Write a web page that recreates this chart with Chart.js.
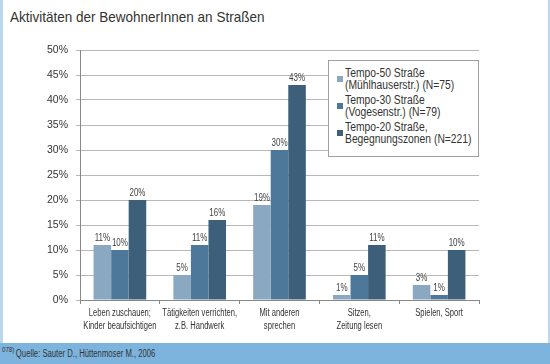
<!DOCTYPE html>
<html>
<head>
<meta charset="utf-8">
<script src="https://cdn.jsdelivr.net/npm/chart.js@4"></script>
<style>
  html, body { margin: 0; padding: 0; background: #fff; }
  body { width: 550px; height: 364px; position: relative; overflow: hidden; font-family: 'Liberation Sans', sans-serif; color: #333; }
  #leftbar { position: absolute; left: 0; top: 0; width: 3px; height: 343px; background: #b9d7ef; }
  #rightbar { position: absolute; right: 0; top: 0; width: 2px; height: 343px; background: #b9d7ef; }
  #title { position: absolute; left: 10px; top: 9px; font-size: 15px; line-height: 15px; white-space: nowrap; transform: scaleX(0.9); transform-origin: left top; color: #333; }
  #wrap { position: absolute; left: 0; top: 0; width: 550px; height: 343px; }
  #footer { position: absolute; left: 0; top: 343px; width: 550px; height: 21px; background: #7db4dd; }
  #footer div { position: absolute; left: 2px; top: 0; font-size: 10px; line-height: 22px; white-space: nowrap; transform: scaleX(0.77); transform-origin: left top; }
  #footer sup { font-size: 8px; vertical-align: top; line-height: 14px; margin-right: 2px; }
  #legend { position: absolute; left: 328px; top: 60px; width: 149px; height: 95px; border: 1px solid #a0a0a0; background: #fff; }
  .item { position: absolute; left: 16px; line-height: 12px; }
  .sq { position: absolute; left: -8px; top: 9px; width: 6px; height: 6px; }
  .txt { font-size: 12px; white-space: nowrap; transform: scaleX(0.86); transform-origin: left top; }
</style>
</head>
<body>
<div id="leftbar"></div>
<div id="rightbar"></div>
<div id="title">Aktivitäten der BewohnerInnen an Straßen</div>
<div id="wrap"><canvas id="chart"></canvas></div>
<div id="legend"></div>
<div id="footer"><div><sup>078)</sup>Quelle: Sauter D., Hüttenmoser M., 2006</div></div>
<script>
const categories = [
  ['Leben zuschauen;', 'Kinder beaufsichtigen'],
  ['Tätigkeiten verrichten,', 'z.B. Handwerk'],
  ['Mit anderen', 'sprechen'],
  ['Sitzen,', 'Zeitung lesen'],
  ['Spielen, Sport']
];
const seriesNames = [
  ['Tempo-50 Straße', '(Mühlhauserstr.) (N=75)'],
  ['Tempo-30 Straße', '(Vogesenstr.) (N=79)'],
  ['Tempo-20 Straße,', 'Begegnungszonen (N=221)']
];
const tempo50 = [11, 5, 19, 1, 3];
const tempo30 = [10, 11, 30, 5, 1];
const tempo20 = [20, 16, 43, 11, 10];
const colors = ['#8aa8c1', '#4e7899', '#3e5f7a'];

// legend as plain html box
const legend = document.getElementById('legend');
seriesNames.forEach((n, i) => {
  const d = document.createElement('div');
  d.className = 'item';
  d.style.top = (6 + i * 27) + 'px';
  d.innerHTML = '<span class="sq" style="background:' + colors[i] + '"></span><div class="txt">' + n[0] + '<br>' + n[1] + '</div>';
  legend.appendChild(d);
});

// the original uses a condensed face, so squeeze text a bit
function narrowText(ctx, t, x, y, sx) {
  ctx.save();
  ctx.translate(x, y);
  ctx.scale(sx, 1);
  ctx.fillText(t, 0, 0);
  ctx.restore();
}

const valueLabels = {
  id: 'valueLabels',
  afterDatasetsDraw(chart) {
    const ctx = chart.ctx;
    ctx.save();
    ctx.font = '10px "Liberation Sans", sans-serif';
    ctx.fillStyle = '#444';
    ctx.textAlign = 'center';
    ctx.textBaseline = 'bottom';
    chart.data.datasets.forEach((ds, i) => {
      chart.getDatasetMeta(i).data.forEach((bar, j) => {
        narrowText(ctx, ds.data[j] + '%', bar.x, bar.y - 2, 0.8);
      });
    });
    ctx.restore();
  }
};

const xLabels = {
  id: 'xLabels',
  afterDraw(chart) {
    const ctx = chart.ctx;
    const xs = chart.scales.x;
    ctx.save();
    ctx.font = '10px "Liberation Sans", sans-serif';
    ctx.fillStyle = '#333';
    ctx.textAlign = 'center';
    ctx.textBaseline = 'middle';
    categories.forEach((lines, i) => {
      const x = xs.getPixelForValue(i);
      lines.forEach((t, k) => narrowText(ctx, t, x, 313 + k * 13, 0.76));
    });
    ctx.restore();
  }
};

const tickFont = { family: '"Liberation Sans", sans-serif', size: 10.5 };

new Chart(document.getElementById('chart'), {
  type: 'bar',
  data: {
    labels: categories,
    datasets: [
      { label: seriesNames[0].join(' '), data: tempo50, backgroundColor: colors[0] },
      { label: seriesNames[1].join(' '), data: tempo30, backgroundColor: colors[1] },
      { label: seriesNames[2].join(' '), data: tempo20, backgroundColor: colors[2] }
    ]
  },
  options: {
    responsive: true,
    maintainAspectRatio: false,
    animation: false,
    layout: { padding: { top: 50, right: 71, left: 0, bottom: 0 } },
    categoryPercentage: 0.66,
    barPercentage: 1,
    plugins: { legend: { display: false }, tooltip: { enabled: false } },
    scales: {
      x: {
        grid: { drawOnChartArea: false, tickLength: 4, color: '#888' },
        border: { color: '#888' },
        ticks: { display: false },
        afterFit: s => { s.height = 43; }
      },
      y: {
        min: 0, max: 50,
        ticks: { stepSize: 5, color: '#333', font: tickFont, padding: 8, callback: v => v + '%' },
        grid: { color: '#b8b8b8', tickLength: 4 },
        border: { color: '#888' },
        afterFit: s => { s.width = 80; }
      }
    }
  },
  plugins: [valueLabels, xLabels]
});
</script>
</body>
</html>
